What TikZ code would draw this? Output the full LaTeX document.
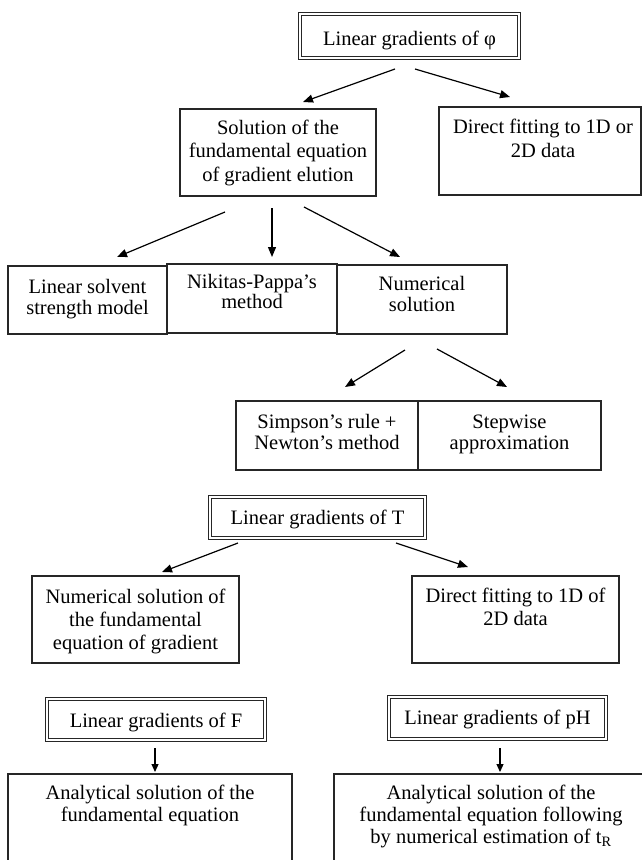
\documentclass[tikz,border=0pt]{standalone}
\usepackage{fontspec}
\setmainfont{Liberation Serif}
\usetikzlibrary{arrows.meta,calc}
\tikzset{
  box/.style={draw=black!85, line width=1.1pt, rectangle, inner sep=0pt, outer sep=0pt},
  dbox/.style={draw=black!85, double=white, double distance=2pt, line width=1pt, rectangle, inner sep=0pt, outer sep=0pt},
  txt/.style={align=center, inner sep=0pt, anchor=base, font=\fontsize{20.5}{23}\selectfont},
  tight/.style={font=\fontsize{20.5}{21.5}\selectfont},
  arr/.style={line width=1.2pt, -{Triangle[length=10pt,width=8pt]}},
  sarr/.style={line width=1.2pt, -{Triangle[length=8pt,width=7pt]}}
}
\begin{document}
\begin{tikzpicture}[x=1pt,y=-1pt]
\useasboundingbox (0,0) rectangle (642,860);
% boxes
\node[dbox, minimum width=219pt, minimum height=44pt] (phi) at (409.5,36) {};
\node[box, minimum width=196pt, minimum height=87pt] (sol) at (278,152.5) {};
\node[box, minimum width=202pt, minimum height=88pt] (dir1) at (540,151) {};
\node[box, minimum width=159pt, minimum height=68pt] (lss) at (87.5,300) {};
\node[box, minimum width=170pt, minimum height=69pt] (nik) at (252,298.5) {};
\node[box, minimum width=170pt, minimum height=69pt] (num) at (422,299.5) {};
\node[box, minimum width=182pt, minimum height=69pt] (simp) at (327,435.5) {};
\node[box, minimum width=183pt, minimum height=69pt] (step) at (509.5,435.5) {};
\node[dbox, minimum width=215pt, minimum height=41pt] (T) at (317.5,517.5) {};
\node[box, minimum width=207pt, minimum height=87pt] (numT) at (135.5,619.5) {};
\node[box, minimum width=207pt, minimum height=87pt] (dirT) at (515.5,619.5) {};
\node[dbox, minimum width=218pt, minimum height=41pt] (F) at (156,719.5) {};
\node[dbox, minimum width=217pt, minimum height=42pt] (pH) at (497.5,718) {};
\node[box, minimum width=284pt, minimum height=186pt] (anF) at (150,867) {};
\node[box, minimum width=366pt, minimum height=186pt] (anpH) at (517,867) {};
% texts (anchor = baseline of the last line)
\node[txt] (phi-t) at (409.5,45) {Linear gradients of φ};
\node[txt, font=\fontsize{20.5}{23.5}\selectfont] (sol-t) at (278,181) {Solution of the\\fundamental equation\\of gradient elution};
\node[txt, font=\fontsize{20.5}{24}\selectfont] (dir1-t) at (543,157) {Direct fitting to 1D or\\2D data};
\node[txt, tight] (lss-t) at (87.5,314.5) {Linear solvent\\strength model};
\node[txt, font=\fontsize{20.5}{20.5}\selectfont] (nik-t) at (252,308.5) {Nikitas-Pappa’s\\method};
\node[txt, tight] (num-t) at (422,311.5) {Numerical\\solution};
\node[txt, tight] (simp-t) at (327,449.5) {Simpson’s rule +\\Newton’s method};
\node[txt, tight] (step-t) at (509.5,449.5) {Stepwise\\approximation};
\node[txt] (T-t) at (317.5,524) {Linear gradients of T};
\node[txt] (numT-t) at (135.5,649) {Numerical solution of\\the fundamental\\equation of gradient};
\node[txt] (dirT-t) at (515.5,625) {Direct fitting to 1D of\\2D data};
\node[txt] (F-t) at (156,727) {Linear gradients of F};
\node[txt] (pH-t) at (497.5,724) {Linear gradients of pH};
\node[txt, font=\fontsize{20.5}{22}\selectfont] (anF-t) at (150,821) {Analytical solution of the\\fundamental equation};
\node[txt, font=\fontsize{20.5}{22}\selectfont] (anpH-t) at (491,843) {Analytical solution of the\\fundamental equation following\\by numerical estimation of t\textsubscript{R}};
% arrows
\draw[arr] ($(phi.south)+(-14.5,11)$) -- ($(sol.north)+(25,-7)$);
\draw[arr] ($(phi.south)+(5.5,11)$) -- ($(dir1.north)+(-30,-10)$);
\draw[arr] ($(sol.south)+(-53,16)$) -- ($(lss.north)+(29.5,-9)$);
\draw[arr] ($(sol.south)+(-6,12)$) -- ($(nik.north)+(20,-7)$);
\draw[arr] ($(sol.south)+(26,11)$) -- ($(num.north)+(-22,-8)$);
\draw[arr] ($(num.south)+(-17,16)$) -- ($(simp.north)+(18,-14)$);
\draw[arr] ($(num.south)+(15,15)$) -- ($(step.north)+(-2.5,-14)$);
\draw[arr] ($(T.south)+(-79.5,5)$) -- ($(numT.north)+(26.5,-4)$);
\draw[arr] ($(T.south)+(78.5,5)$) -- ($(dirT.north)+(-47.5,-9)$);
\draw[sarr] ($(F.south)+(-1,8)$) -- ($(anF.north)+(5,-2)$);
\draw[sarr] ($(pH.south)+(2.5,9)$) -- ($(anpH.north)+(-17,-2)$);
\end{tikzpicture}
\end{document}
